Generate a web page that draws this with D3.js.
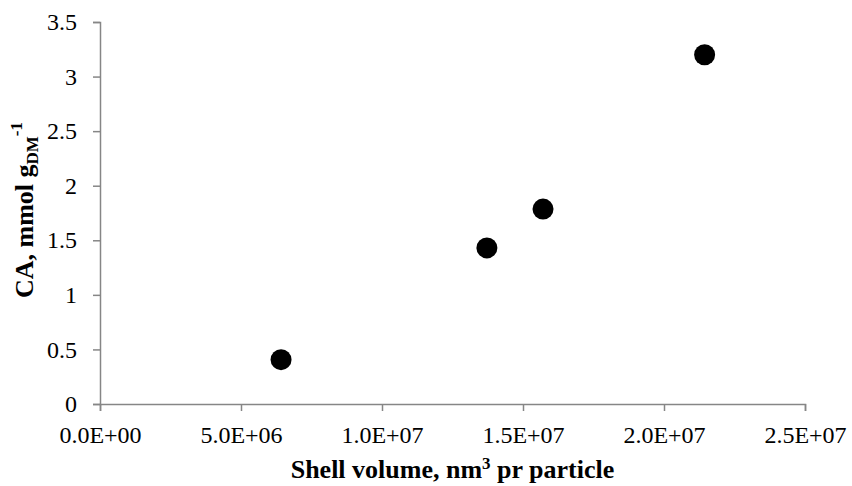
<!DOCTYPE html>
<html>
<head>
<meta charset="utf-8">
<script src="https://cdn.jsdelivr.net/npm/d3@7"></script>
<style>
  body { margin: 0; background: #fff; }
  svg text { font-family: "Liberation Serif", "Times New Roman", serif; fill: #000; }
</style>
</head>
<body>
<script>
const width = 852;
const height = 486;

// shell volume (nm3 per particle) and CA (mmol/gDM)
const shellVolume = [6.42e6, 1.372e7, 1.571e7, 2.144e7];
const caValues = [0.406, 1.43, 1.786, 3.20];
const xTicks = [0, 5e6, 1e7, 1.5e7, 2e7, 2.5e7];
const yTicks = [0, 0.5, 1, 1.5, 2, 2.5, 3, 3.5];

const plotLeft = 100, plotRight = 805, plotTop = 22, plotBottom = 404;

const svg = d3.select('body')
  .append('svg')
  .attr('width', width)
  .attr('height', height);

const xScale = d3.scaleLinear()
  .domain([0, 2.5e7])
  .range([plotLeft, plotRight]);

const yScale = d3.scaleLinear()
  .domain([0, 3.5])
  .range([plotBottom, plotTop]);

function sci(d) {
  if (d === 0) return '0.0E+00';
  const parts = d.toExponential(1).split('e');
  const exp = +parts[1];
  return parts[0] + 'E' + (exp < 0 ? '-' : '+') + String(Math.abs(exp)).padStart(2, '0');
}

const xAxis = d3.axisBottom(xScale)
  .tickValues(xTicks)
  .tickFormat(sci)
  .tickSizeOuter(0)
  .tickSize(7)
  .tickPadding(15);

const yAxis = d3.axisLeft(yScale)
  .tickValues(yTicks)
  .tickFormat(d3.format('~g'))
  .tickSizeOuter(0)
  .tickSize(7)
  .tickPadding(16);

const gx = svg.append('g')
  .attr('transform', `translate(0, ${plotBottom})`)
  .call(xAxis);

const gy = svg.append('g')
  .attr('transform', `translate(${plotLeft}, 0)`)
  .call(yAxis);

[gx, gy].forEach(function (g) {
  g.select('.domain').attr('stroke', '#868686').attr('stroke-width', 1.5);
  g.selectAll('.tick line').attr('stroke', '#868686').attr('stroke-width', 1.5);
  g.selectAll('.tick text')
    .attr('font-family', '"Liberation Serif", "Times New Roman", serif')
    .attr('font-size', '24px')
    .attr('fill', '#000');
});

svg.selectAll('circle')
  .data(shellVolume)
  .enter()
  .append('circle')
  .attr('cx', function (d) { return xScale(d); })
  .attr('cy', function (d, i) { return yScale(caValues[i]); })
  .attr('r', 10.5)
  .attr('fill', '#000');

// x axis title
const xt = svg.append('text')
  .attr('x', (plotLeft + plotRight) / 2)
  .attr('y', 478)
  .attr('text-anchor', 'middle')
  .attr('font-size', '26px')
  .attr('font-weight', 'bold');
xt.append('tspan').text('Shell volume, nm');
xt.append('tspan').attr('dy', -9).attr('font-size', '17px').text('3');
xt.append('tspan').attr('dy', 9).text(' pr particle');

// y axis title
const yt = svg.append('text')
  .attr('transform', `translate(33, 210) rotate(-90)`)
  .attr('text-anchor', 'middle')
  .attr('font-size', '26px')
  .attr('font-weight', 'bold');
yt.append('tspan').text('CA, mmol g');
yt.append('tspan').attr('dy', 5).attr('font-size', '17px').text('DM');
yt.append('tspan').attr('dy', -16).attr('font-size', '17px').text('-1');
</script>
</body>
</html>
